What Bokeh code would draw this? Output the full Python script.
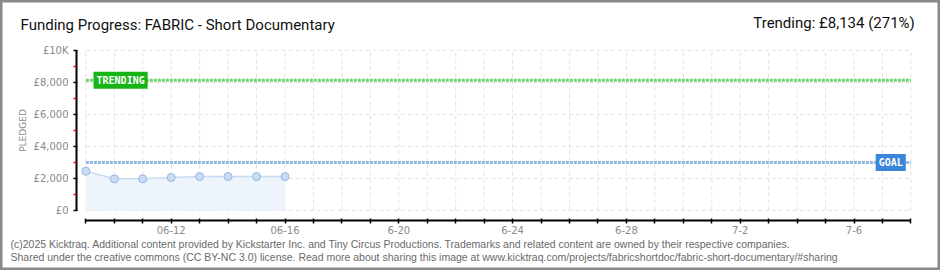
from datetime import date
from bokeh.plotting import figure
from bokeh.models import FixedTicker, Label, Range1d, ColumnDataSource
from bokeh.embed import file_html
from bokeh.resources import INLINE
from bokeh.core.properties import value

title_text = "Funding Progress: FABRIC - Short Documentary"
trending_text = "Trending:  £8,134 (271%)"
footer1 = ("(c)2025 Kicktraq. Additional content provided by Kickstarter Inc. and Tiny Circus Productions. "
           "Trademarks and related content are owned by their respective companies.")
footer2 = ("Shared under the creative commons (CC BY-NC 3.0) license. Read more about sharing this image at "
           "www.kicktraq.com/projects/fabricshortdoc/fabric-short-documentary/#sharing")

dates = ["2025-06-09", "2025-06-10", "2025-06-11", "2025-06-12",
         "2025-06-13", "2025-06-14", "2025-06-15", "2025-06-16"]
pledged = [2460, 1980, 1980, 2060, 2120, 2120, 2120, 2120]
goal = 3000
trending = 8134
axis_start = "2025-06-09"
axis_end = "2025-07-08"
x_tick_dates = ["2025-06-12", "2025-06-16", "2025-06-20", "2025-06-24",
                "2025-06-28", "2025-07-02", "2025-07-06"]
x_tick_labels = ["06-12", "06-16", "6-20", "6-24", "6-28", "7-2", "7-6"]
y_ticks = [0, 2000, 4000, 6000, 8000, 10000]
y_tick_labels = ["£0", "£2,000", "£4,000", "£6,000", "£8,000", "£10K"]

d0 = date.fromisoformat(axis_start)
def day(s):
    return (date.fromisoformat(s) - d0).days

xs = [day(s) for s in dates]
x_end = day(axis_end)
all_days = list(range(0, x_end + 1))

W, H = 940, 270
# the frame fills the whole canvas; axes are pinned inside it with fixed_location
p = figure(width=W, height=H, output_backend="svg", toolbar_location=None,
           x_range=Range1d(-3.0, 30.04), y_range=Range1d(-3750, 13125), min_border=0)
p.extra_x_ranges = {"px": Range1d(0, W)}
p.extra_y_ranges = {"px": Range1d(H, 0)}
p.outline_line_color = "#8a8a8a"
p.outline_line_width = 4
p.grid.visible = False
p.background_fill_color = "white"
p.border_fill_color = "white"

grid_c = "#e3e3e3"
p.segment(x0=all_days, y0=[y_ticks[0]] * len(all_days), x1=all_days, y1=[y_ticks[-1]] * len(all_days),
          line_color=grid_c, line_width=1, line_dash="4 3")
p.segment(x0=[0] * len(y_ticks), y0=y_ticks, x1=[x_end] * len(y_ticks), y1=y_ticks,
          line_color=grid_c, line_width=1, line_dash="4 3")

src = ColumnDataSource(dict(x=xs, y=pledged, z=[0] * len(xs)))
p.varea(x="x", y1="z", y2="y", source=src, fill_color="#eef4fc")
p.line(x="x", y="y", source=src, line_color="#c5dcf3", line_width=1.5)
p.scatter(x="x", y="y", source=src, size=8, fill_color="#c6ddf5", line_color="#98b6db", line_width=1)

p.line(x=[0, x_end], y=[trending, trending], line_color="#6cd46c", line_width=3, line_dash="3 1")
p.line(x=[0, x_end], y=[goal, goal], line_color="#93b7e2", line_width=3, line_dash="3 1")

p.add_layout(Label(x=0.27, y=trending, text="TRENDING", text_font="DejaVu Sans Mono",
                   text_font_size="10px", text_font_style="bold", text_color="white",
                   text_baseline="middle", text_align="left",
                   background_fill_color="#16b416", padding=3))
p.add_layout(Label(x=28.82, y=goal, text="GOAL", text_font="DejaVu Sans Mono",
                   text_font_size="10px", text_font_style="bold", text_color="white",
                   text_baseline="middle", text_align="right",
                   background_fill_color="#3a86d8", padding=3))

xa = p.xaxis[0]
xa.fixed_location = -625
xa.ticker = FixedTicker(ticks=all_days, minor_ticks=[])
overrides = {d: "" for d in all_days}
overrides.update({day(s): l for s, l in zip(x_tick_dates, x_tick_labels)})
xa.major_label_overrides = overrides
xa.bounds = (0, x_end)
xa.axis_line_width = 2
xa.axis_line_color = "black"
xa.major_tick_in = 2
xa.major_tick_out = 3
xa.major_tick_line_width = 1.5
xa.major_label_standoff = 2
xa.major_label_text_font = "DejaVu Sans"
xa.major_label_text_font_size = "10px"
xa.major_label_text_color = "#8a8a8a"

ya = p.yaxis[0]
ya.fixed_location = -0.327
ya.ticker = FixedTicker(ticks=y_ticks,
                        minor_ticks=[(a + b) / 2 for a, b in zip(y_ticks[:-1], y_ticks[1:])])
ya.major_label_overrides = {t: l for t, l in zip(y_ticks, y_tick_labels)}
ya.bounds = (y_ticks[0], y_ticks[-1])
ya.axis_line_width = 2
ya.axis_line_color = "black"
ya.major_tick_in = 1
ya.major_tick_out = 3
ya.major_tick_line_width = 1.5
ya.minor_tick_in = 0
ya.minor_tick_out = 3
ya.minor_tick_line_color = "#e00000"
ya.minor_tick_line_width = 1.5
ya.major_label_standoff = 5
ya.major_label_text_font = "DejaVu Sans"
ya.major_label_text_font_size = "10px"
ya.major_label_text_color = "#8a8a8a"
ya.axis_label = "PLEDGED"
ya.axis_label_text_font = "DejaVu Sans"
ya.axis_label_text_font_size = "9px"
ya.axis_label_text_font_style = "normal"
ya.axis_label_text_color = "#8a8a8a"
ya.axis_label_standoff = 3

# header and footer texts, positioned in canvas pixels through the "px" ranges
p.text(x=[20], y=[24], text=[title_text], text_font=value("Roboto"), text_font_size="15px",
       text_color="#111111", text_baseline="middle", text_align="left",
       x_range_name="px", y_range_name="px")
p.text(x=[918], y=[22], text=[trending_text], text_font=value("Roboto"), text_font_size="15px",
       text_color="#111111", text_baseline="middle", text_align="right",
       x_range_name="px", y_range_name="px")
p.text(x=[10, 10], y=[243, 256], text=[footer1, footer2], text_font=value("Liberation Sans"),
       text_font_size="10.5px", text_color="#6a6a6a", text_baseline="middle", text_align="left",
       x_range_name="px", y_range_name="px")

open("out.html", "w").write(file_html(p, INLINE))
